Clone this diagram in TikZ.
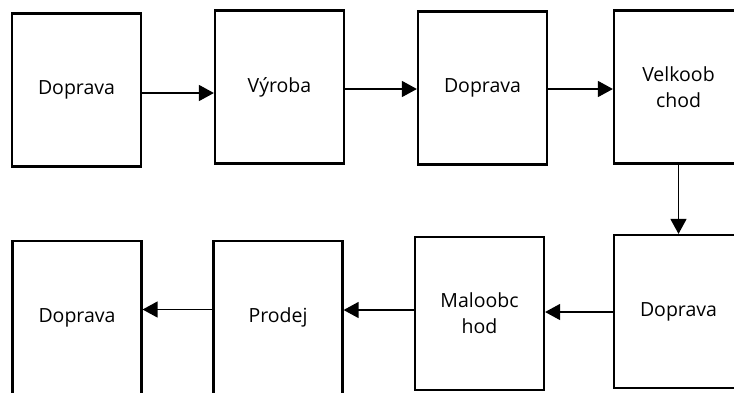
\documentclass[tikz,border=0pt]{standalone}
\usepackage{fontspec}
\setmainfont{Open Sans}
\usetikzlibrary{arrows.meta}

\begin{document}
\begin{tikzpicture}[
        x=1pt, y=-1pt,
        krok/.style={draw, line width=2.2pt, minimum width=129pt, minimum height=153pt,
            inner sep=0pt, align=center, font=\fontsize{19.5}{26}\selectfont},
        sipka/.style={draw, line width=1.4pt, -{Triangle[length=15pt,width=16pt]}}
    ]
        \useasboundingbox (0,0) rectangle (734,392);
        \clip (0,0) rectangle (734,392);
        % horni rada
        \node[krok] (doprava1) at (76.5,90) {Doprava};
        \node[krok] (vyroba) at (279.5,87) {Výroba};
        \node[krok] (doprava2) at (482.5,88) {Doprava};
        \node[krok] (velko) at (678.5,87) {Velkoob\\chod};
        % dolni rada
        \node[krok] (doprava3) at (678.5,311.5) {Doprava};
        \node[krok] (malo) at (479.5,313.5) {Maloobc\\hod};
        \node[krok] (prodej) at (278,317.5) {Prodej};
        \node[krok] (doprava4) at (77,317.5) {Doprava};

        \draw[sipka] ([yshift=-3pt]doprava1.east) -- ([yshift=-3pt]doprava1.east -| vyroba.west);
        \draw[sipka] ([yshift=-2pt]vyroba.east) -- ([yshift=-2pt]vyroba.east -| doprava2.west);
        \draw[sipka] ([yshift=-1pt]doprava2.east) -- ([yshift=-1pt]doprava2.east -| velko.west);
        \draw[sipka] (velko.south) -- (doprava3.north);
        \draw[sipka] ([yshift=-0.5pt]doprava3.west) -- ([yshift=-0.5pt]doprava3.west -| malo.east);
        \draw[sipka] ([yshift=3.5pt]malo.west) -- ([yshift=3.5pt]malo.west -| prodej.east);
        \draw[sipka] ([yshift=8pt]prodej.west) -- ([yshift=8pt]prodej.west -| doprava4.east);
    \end{tikzpicture}
\end{document}
